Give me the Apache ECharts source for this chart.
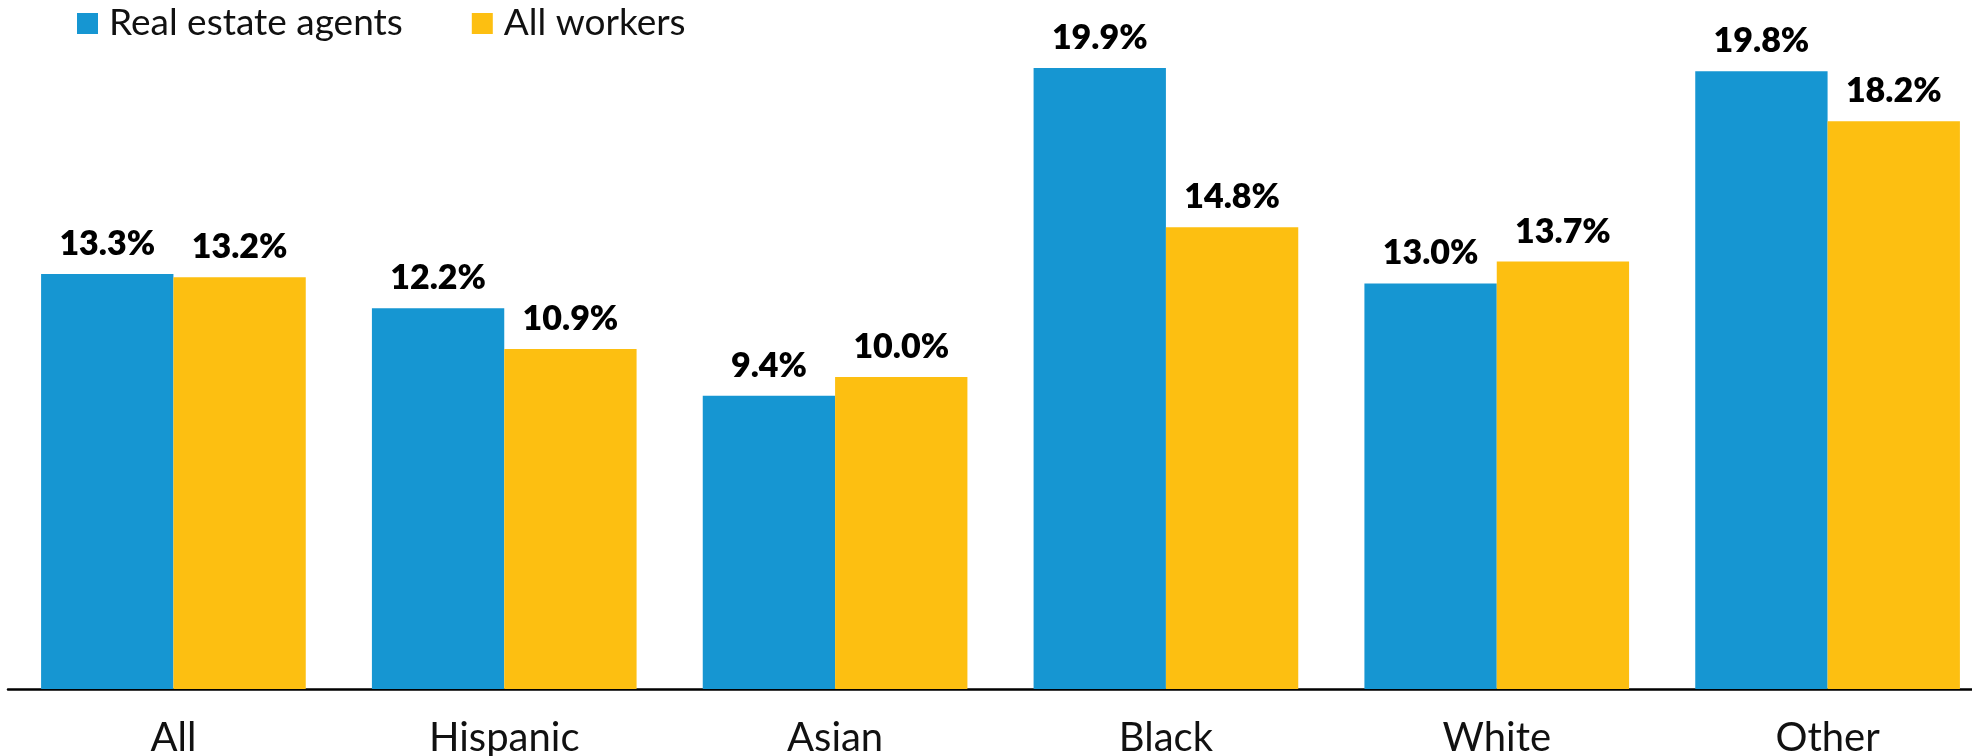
<!DOCTYPE html>
<html>
<head>
<meta charset="utf-8">
<script src="https://cdn.jsdelivr.net/npm/echarts@6/dist/echarts.min.js"></script>
<style>
  html, body { margin: 0; padding: 0; background: #ffffff; overflow: hidden; }
  /* The plot runs a little past the right edge of the page, so the canvas is wider than the view */
  #chart { width: 1993px; height: 756px; }
</style>
</head>
<body>
<div id="chart"></div>
<script>
// Share of workers by race/ethnicity group, real estate agents vs. all workers
const categories = ['All', 'Hispanic', 'Asian', 'Black', 'White', 'Other'];
const agentsValues = [13.3, 12.2, 9.4, 19.9, 13.0, 19.8];
const allWorkersValues = [13.2, 10.9, 10.0, 14.8, 13.7, 18.2];
const seriesNames = ['Real estate agents', 'All workers'];

const BLUE = '#1696d2';
const YELLOW = '#fdbf11';
const FONT = 'Lato, "Noto Sans", sans-serif';

const chart = echarts.init(document.getElementById('chart'), null, { renderer: 'canvas' });

const valueLabel = {
  show: true,
  position: 'top',
  distance: 13,
  formatter: p => p.value.toFixed(1) + '%',
  fontFamily: FONT,
  fontWeight: 800,
  fontSize: 34,
  color: '#000000'
};

chart.setOption({
  animation: false,
  backgroundColor: '#ffffff',
  textStyle: { fontFamily: FONT },
  legend: {
    left: 77,
    top: 5,
    itemWidth: 21,
    itemHeight: 21,
    itemGap: 69,
    icon: 'rect',
    padding: 0,
    textStyle: {
      fontFamily: FONT,
      fontSize: 37,
      color: '#111111',
      padding: [0, 0, 0, 6]
    },
    data: seriesNames
  },
  // Fixed plot box; category labels are allowed to run off the bottom edge
  grid: {
    left: 8,
    right: 0,
    top: 65,
    bottom: 67,
    containLabel: false,
    outerBoundsMode: 'none'
  },
  xAxis: {
    type: 'category',
    data: categories,
    axisLine: { show: true, lineStyle: { color: '#000000', width: 2.5 } },
    axisTick: { show: false },
    axisLabel: {
      margin: 29,
      fontFamily: FONT,
      fontSize: 40,
      color: '#111111'
    }
  },
  yAxis: {
    type: 'value',
    min: 0,
    max: 20,
    interval: 5,
    show: false,
    splitLine: { show: false }
  },
  series: [
    {
      name: seriesNames[0],
      type: 'bar',
      data: agentsValues,
      barWidth: '40%',
      barGap: '0%',
      itemStyle: { color: BLUE },
      label: valueLabel
    },
    {
      name: seriesNames[1],
      type: 'bar',
      data: allWorkersValues,
      barWidth: '40%',
      barGap: '0%',
      itemStyle: { color: YELLOW },
      label: valueLabel
    }
  ]
});
</script>
</body>
</html>
